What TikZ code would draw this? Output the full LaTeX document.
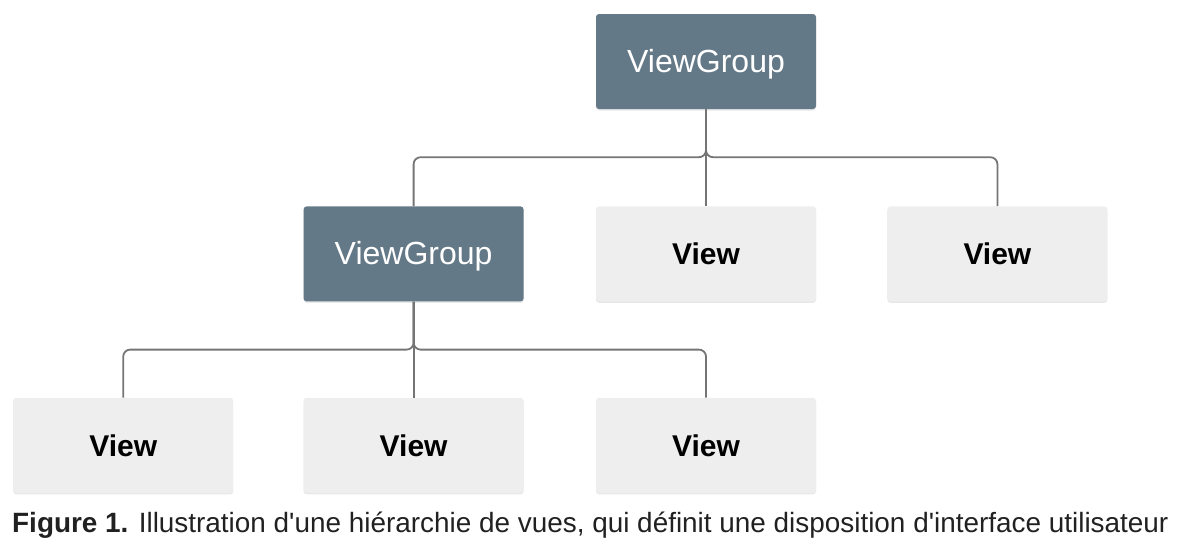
\documentclass[tikz,border=0pt]{standalone}
\usepackage{fontspec}
\newfontfamily\uifont{Liberation Sans}
\usepackage{xcolor}
\definecolor{GroupBg}{HTML}{647987}
\definecolor{ViewBg}{HTML}{EEEEEE}
\definecolor{LinkGrey}{HTML}{757575}
\definecolor{CaptionInk}{HTML}{212121}
\usetikzlibrary{positioning}
\usetikzlibrary{shadows}

\begin{document}
\begin{tikzpicture}[x=1pt, y=1pt,
    font=\uifont\fontsize{32}{36}\selectfont,
    box/.style={shape=rectangle,
      rounded corners=3pt,
      minimum width=220pt,
      minimum height=95pt,
      text height=22pt,
      text depth=0pt,
      drop shadow={shadow xshift=0pt, shadow yshift=-1.5pt, opacity=0.18}},
    groupbox/.style={box, fill=GroupBg, text=white},
    viewbox/.style={box, fill=ViewBg, text=black, font=\uifont\fontsize{30}{34}\selectfont\bfseries},
    link/.style={draw=LinkGrey, line width=1.8pt, rounded corners=7pt}]

    \path [use as bounding box] (0,0) rectangle (1178,-544);

    \node[name=grouptop, groupbox] at (706,-61.5) {ViewGroup};

    \node[name=viewmid, viewbox, below=97pt of grouptop] {View};

    \node[name=groupmid, groupbox, left=72pt of viewmid] {ViewGroup};

    \node[name=viewright, viewbox, right=71pt of viewmid] {View};

    \node[name=viewlowmid, viewbox, below=96pt of groupmid] {View};

    \node[name=viewlowleft, viewbox, left=70pt of viewlowmid] {View};

    \node[name=viewlowright, viewbox, right=72pt of viewlowmid] {View};

    \coordinate (busone) at ([yshift=-48pt]grouptop.south);
    \coordinate (bustwo) at ([yshift=-48pt]groupmid.south);

    \path[link] (grouptop.south) -- (busone) -| (groupmid.north);
    \path[link] (grouptop.south) -- (busone) -| (viewright.north);
    \path[link] (grouptop.south) -- (viewmid.north);

    \path[link] (groupmid.south) -- (bustwo) -| (viewlowleft.north);
    \path[link] (groupmid.south) -- (bustwo) -| (viewlowright.north);
    \path[link] (groupmid.south) -- (viewlowmid.north);

    \node[name=caption, anchor=base west, inner sep=0pt, text=CaptionInk,
      font=\uifont\fontsize{27.9}{31}\selectfont] at (12,-532)
      {\textbf{Figure 1.} Illustration d'une hiérarchie de vues, qui définit une disposition d'interface utilisateur};
\end{tikzpicture}
\end{document}
